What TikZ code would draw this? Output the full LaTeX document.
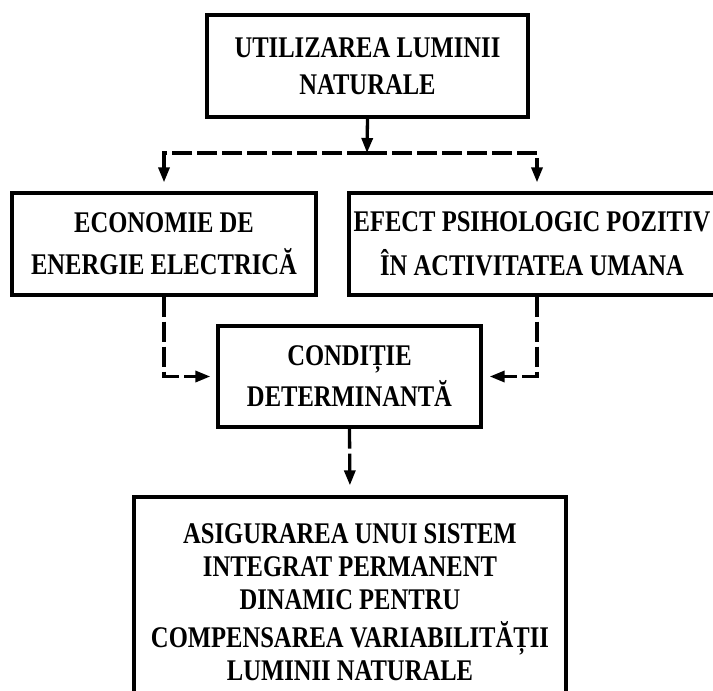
\documentclass[tikz,border=0pt]{standalone}
\usepackage{fontspec}
\setmainfont{Liberation Serif}[FakeStretch=0.82]
\usetikzlibrary{arrows.meta}
\begin{document}
\begin{tikzpicture}[x=1pt,y=-1pt,
  box/.style={draw, line width=3.3pt, inner sep=0pt, align=center},
  txt/.style={font=\bfseries\fontsize{30}{#1}\selectfont},
  conn/.style={line width=3.3pt, -{Triangle[length=15pt,width=11pt]}},
  dashc/.style={dash pattern=on 20pt off 5pt}]
\useasboundingbox (0,0) rectangle (713,691);
\clip (0,0) rectangle (713,691);

\node[box, txt=37, minimum width=321pt, minimum height=102pt] (top) at (367.5,66) {UTILIZAREA LUMINII\\NATURALE};
\node[box, txt=42, minimum width=304pt, minimum height=102pt] (left) at (164,244) {ECONOMIE DE\\ENERGIE ELECTRICĂ};
\node[box, txt=44, minimum width=366pt, minimum height=102pt] (right) at (532,244) {EFECT PSIHOLOGIC POZITIV\\ÎN ACTIVITATEA UMANA};
\node[box, txt=41, minimum width=263pt, minimum height=101pt] (cond) at (349.5,376.5) {CONDIȚIE\\DETERMINANTĂ};
\node[box, txt=33, minimum width=432pt, minimum height=210pt] (bot) at (350,602) {ASIGURAREA UNUI SISTEM\\INTEGRAT PERMANENT\\DINAMIC PENTRU\\[5pt]COMPENSAREA VARIABILITĂȚII\\LUMINII NATURALE};

\coordinate (split) at (367,153);
\draw[conn] (top.south) -- (split);
\draw[conn, dashc, shorten >=9pt] (split) -| (left.north);
\draw[conn, dashc, shorten >=9pt] (split) -| ([xshift=5pt]right.north);
\draw[conn, dashc, shorten >=6pt] (left.south) |- (cond.west);
\draw[conn, dashc, shorten >=7pt] ([xshift=5pt]right.south) |- (cond.east);
\draw[conn, dashc, shorten >=10pt] (cond.south) -- (bot.north);
\end{tikzpicture}
\end{document}
